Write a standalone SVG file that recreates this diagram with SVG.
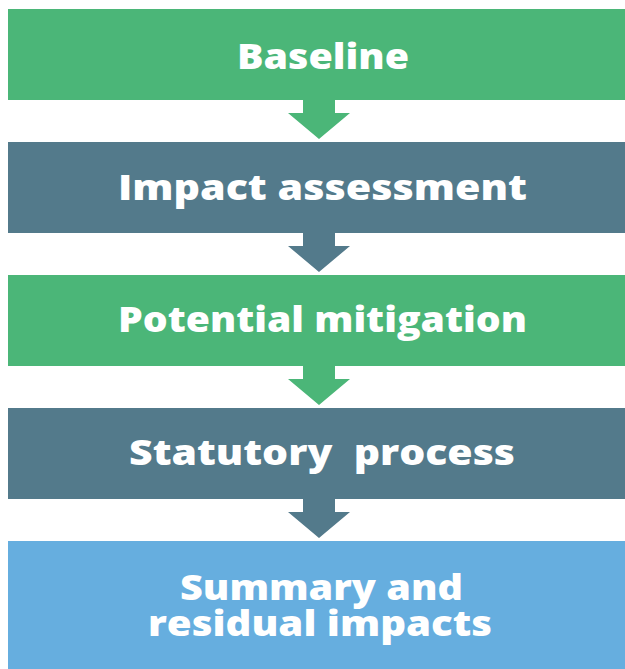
<svg xmlns="http://www.w3.org/2000/svg" width="625" height="669" viewBox="0 0 625 669">
<style>
.g{fill:#4BB678}.s{fill:#537A8B}.b{fill:#66AEDF}
text{font-family:"Open Sans","Liberation Sans",sans-serif;font-weight:800;font-size:35px;fill:#fff;text-anchor:middle}
</style>
<rect width="625" height="669" fill="#fff"/>
<g id="connectors">
<polygon class="g" points="303,99 335,99 335,113 350,113 319,139 288,113 303,113"/>
<polygon class="s" points="303,232 335,232 335,246 350,246 319,272 288,246 303,246"/>
<polygon class="g" points="303,365 335,365 335,379 350,379 319,405 288,379 303,379"/>
<polygon class="s" points="303,498 335,498 335,512 350,512 319,538 288,512 303,512"/>
</g>
<g id="baseline"><rect class="g" x="8" y="9" width="617" height="91"/><text x="323" y="69" textLength="172" lengthAdjust="spacingAndGlyphs">Baseline</text></g>
<g id="impact"><rect class="s" x="8" y="142" width="617" height="91"/><text x="322.5" y="200" textLength="409" lengthAdjust="spacingAndGlyphs">Impact assessment</text></g>
<g id="mitigation"><rect class="g" x="8" y="275" width="617" height="91"/><text x="322.5" y="332" textLength="409" lengthAdjust="spacingAndGlyphs">Potential mitigation</text></g>
<g id="statutory"><rect class="s" x="8" y="408" width="617" height="91"/><text x="322" y="465" xml:space="preserve" textLength="386" lengthAdjust="spacingAndGlyphs">Statutory  process</text></g>
<g id="summary"><rect class="b" x="8" y="541" width="617" height="128"/><text><tspan x="321.5" y="600" textLength="283" lengthAdjust="spacingAndGlyphs">Summary and</tspan><tspan x="320" y="636" textLength="344" lengthAdjust="spacingAndGlyphs">residual impacts</tspan></text></g>
</svg>
